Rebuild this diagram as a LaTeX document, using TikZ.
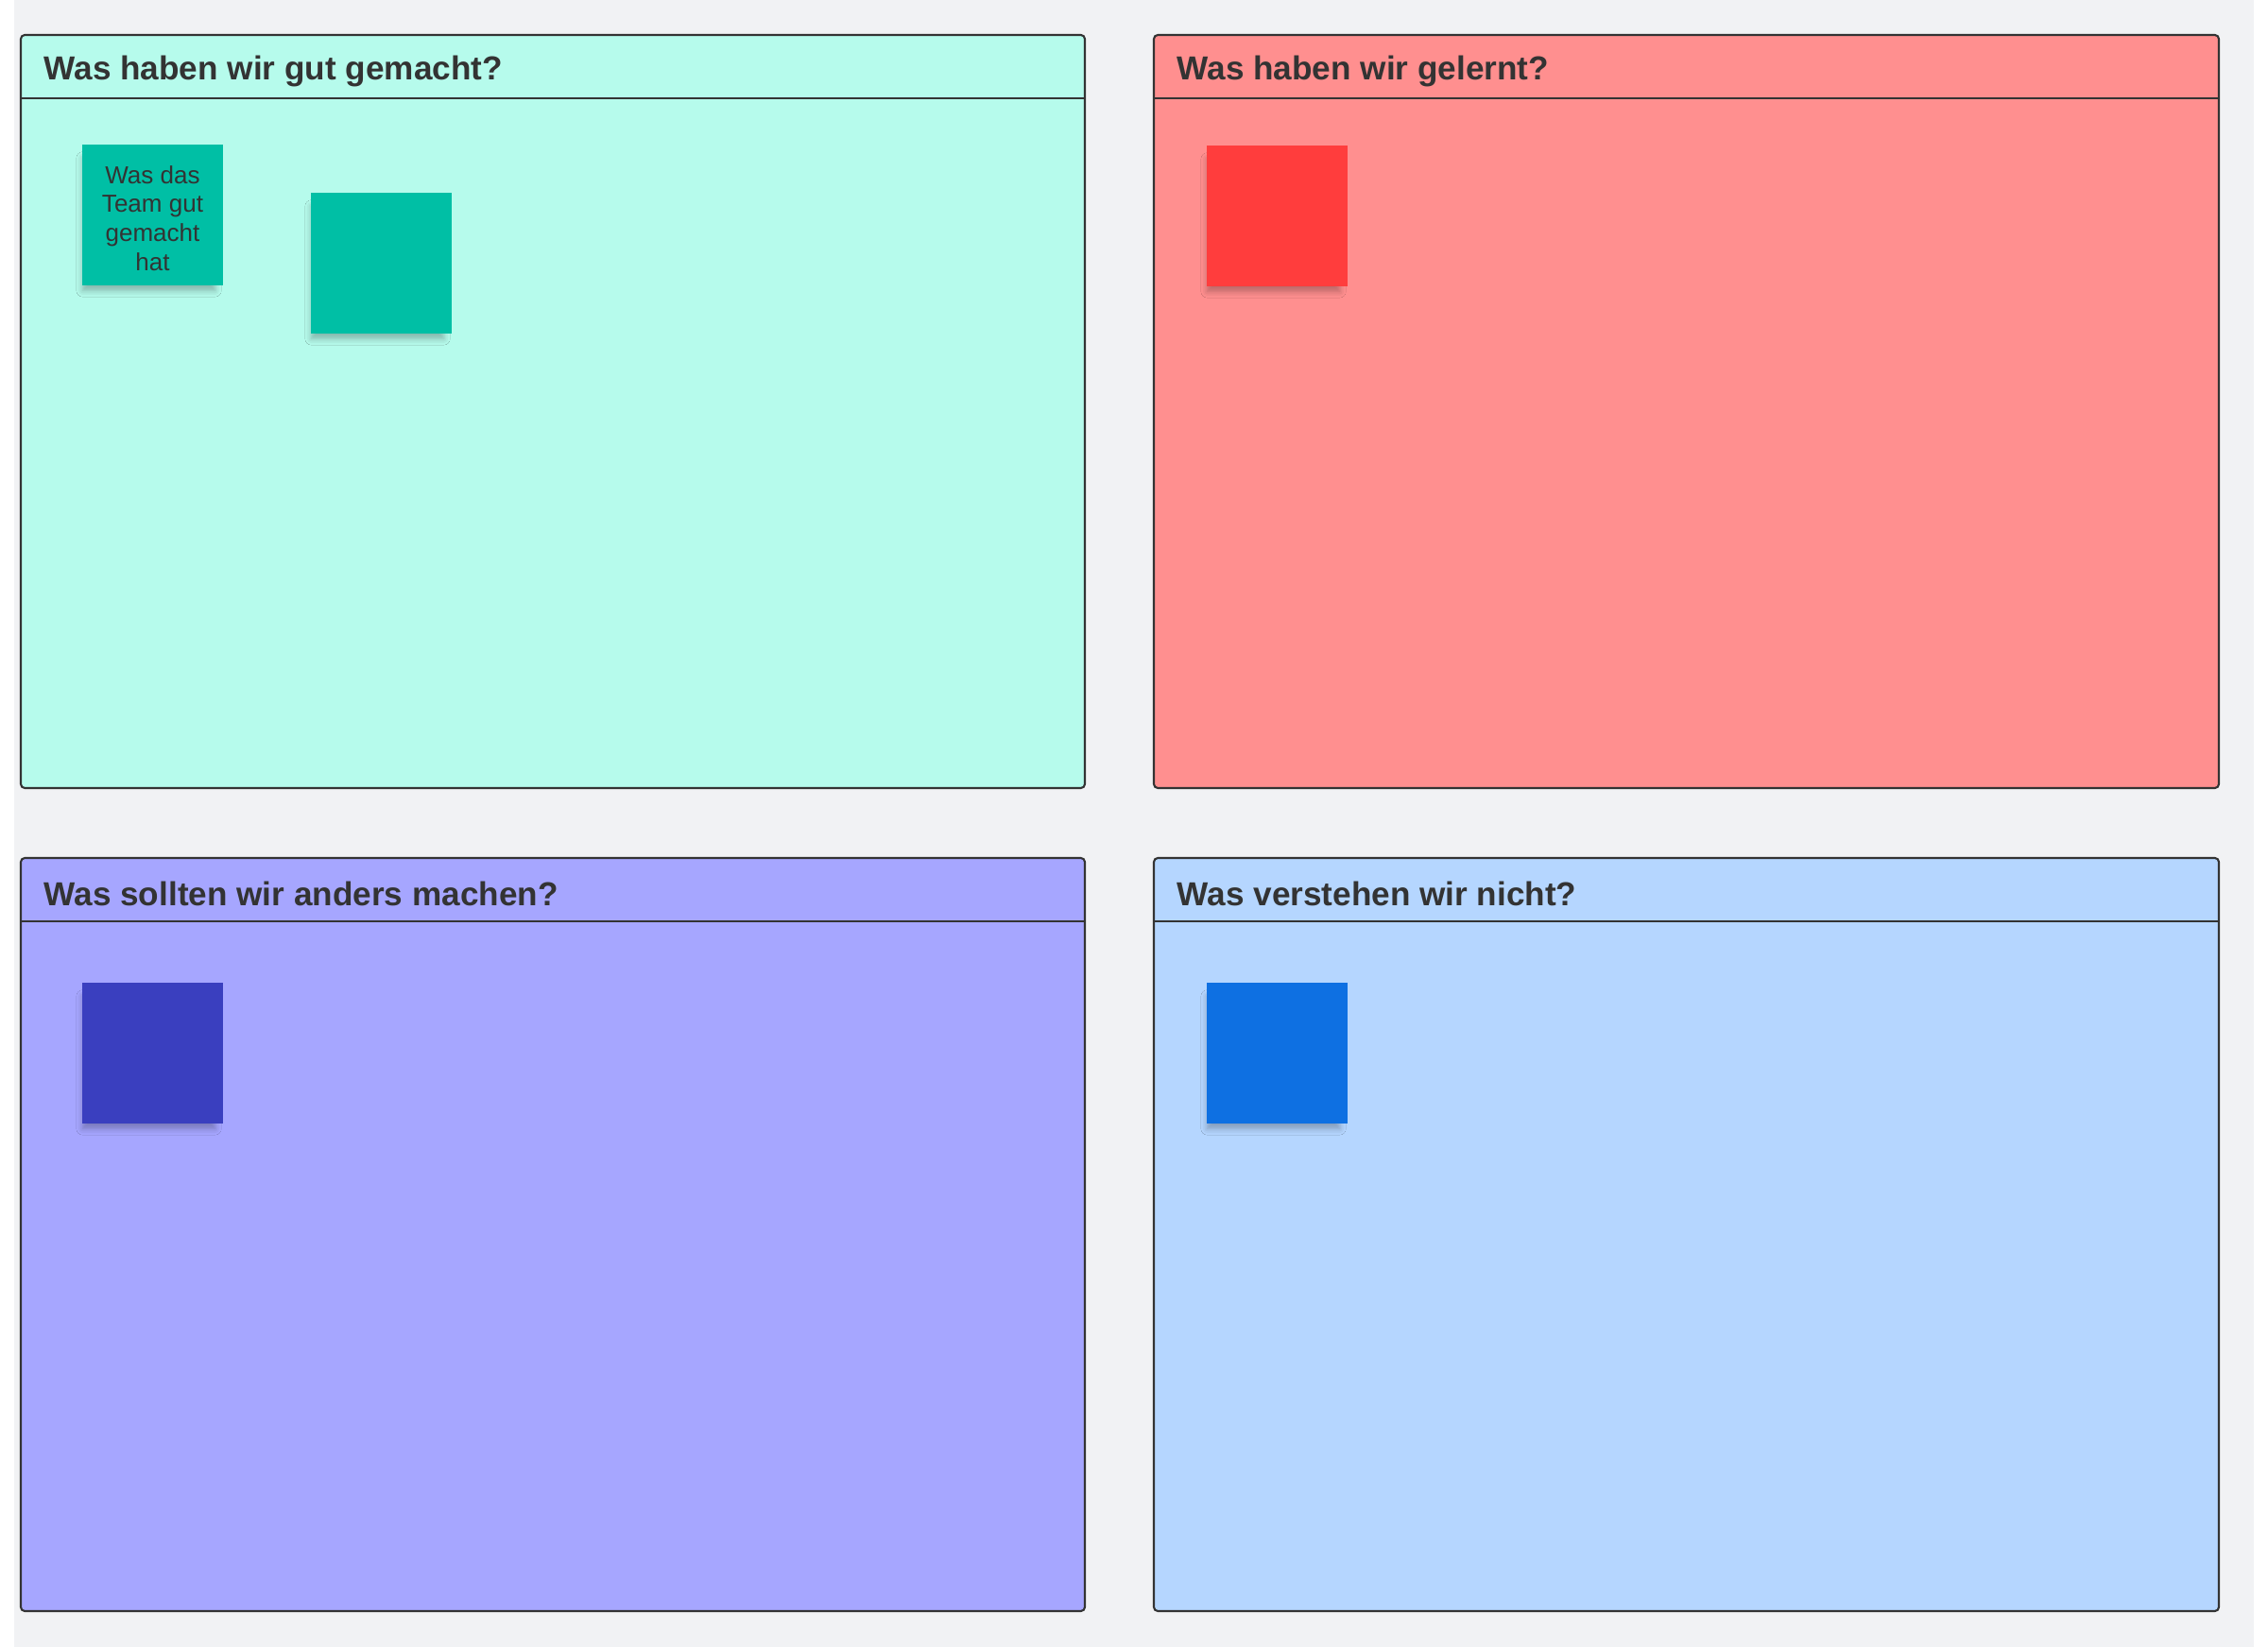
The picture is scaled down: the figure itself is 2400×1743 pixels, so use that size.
\documentclass[tikz,border=0pt]{standalone}
\usepackage{fontspec}
\setmainfont{Liberation Sans}
\usepackage{tikz}
\usetikzlibrary{positioning, shadows.blur}

\definecolor{boardgray}{HTML}{F1F2F4}
\definecolor{framegray}{HTML}{333333}
\definecolor{mintpanel}{HTML}{B6FBEC}
\definecolor{mintnote}{HTML}{00BFA5}
\definecolor{redpanel}{HTML}{FF8F8F}
\definecolor{rednote}{HTML}{FF3D3D}
\definecolor{violetpanel}{HTML}{A6A6FF}
\definecolor{violetnote}{HTML}{3A3FBF}
\definecolor{bluepanel}{HTML}{B5D6FF}
\definecolor{bluenote}{HTML}{0E70E2}

\begin{document}
\begin{tikzpicture}[x=0.01cm, y=-0.01cm,
    panel/.style={draw=framegray, line width=0.6pt, rounded corners=1.2pt},
    paneltitle/.style={anchor=west, text=framegray, font=\fontsize{10}{12}\selectfont\bfseries, inner sep=0pt},
    sticky/.style={minimum width=1.49cm, minimum height=1.49cm, inner sep=0pt,
        blur shadow={shadow xshift=-1.2pt, shadow yshift=-3pt, shadow scale=0.94,
            shadow blur radius=2pt, shadow opacity=28}},
    stickytext/.style={text=framegray, align=center, font=\fontsize{7.4}{8.7}\selectfont}]
    \useasboundingbox[fill=white] (0,0) rectangle (2400,1743);
    \fill[boardgray] (15,0) rectangle (2385,1743);

    % === Top left: gut gemacht ===
    \draw[panel, fill=mintpanel] (22,37) rectangle (1148,834);
    \draw[framegray, line width=0.6pt] (22,104) -- (1148,104);
    \node[paneltitle] (titleGood) at (46,75) {Was haben wir gut gemacht?};
    \node[sticky, fill=mintnote] (noteGoodA) at (161.5,227.5) {};
    \node[stickytext] (textGoodA) at (161.5,231) {Was das\\Team gut\\gemacht\\hat};
    \node[sticky, fill=mintnote] (noteGoodB) at (403.5,278.5) {};

    % === Top right: gelernt ===
    \draw[panel, fill=redpanel] (1221,37) rectangle (2348,834);
    \draw[framegray, line width=0.6pt] (1221,104) -- (2348,104);
    \node[paneltitle] (titleLearnt) at (1245,75) {Was haben wir gelernt?};
    \node[sticky, fill=rednote] (noteLearnt) at (1351.5,228.5) {};

    % === Bottom left: anders machen ===
    \draw[panel, fill=violetpanel] (22,908) rectangle (1148,1705);
    \draw[framegray, line width=0.6pt] (22,975) -- (1148,975);
    \node[paneltitle] (titleChange) at (46,946) {Was sollten wir anders machen?};
    \node[sticky, fill=violetnote] (noteChange) at (161.5,1114.5) {};

    % === Bottom right: nicht verstanden ===
    \draw[panel, fill=bluepanel] (1221,908) rectangle (2348,1705);
    \draw[framegray, line width=0.6pt] (1221,975) -- (2348,975);
    \node[paneltitle] (titleUnclear) at (1245,946) {Was verstehen wir nicht?};
    \node[sticky, fill=bluenote] (noteUnclear) at (1351.5,1114.5) {};
\end{tikzpicture}
\end{document}
